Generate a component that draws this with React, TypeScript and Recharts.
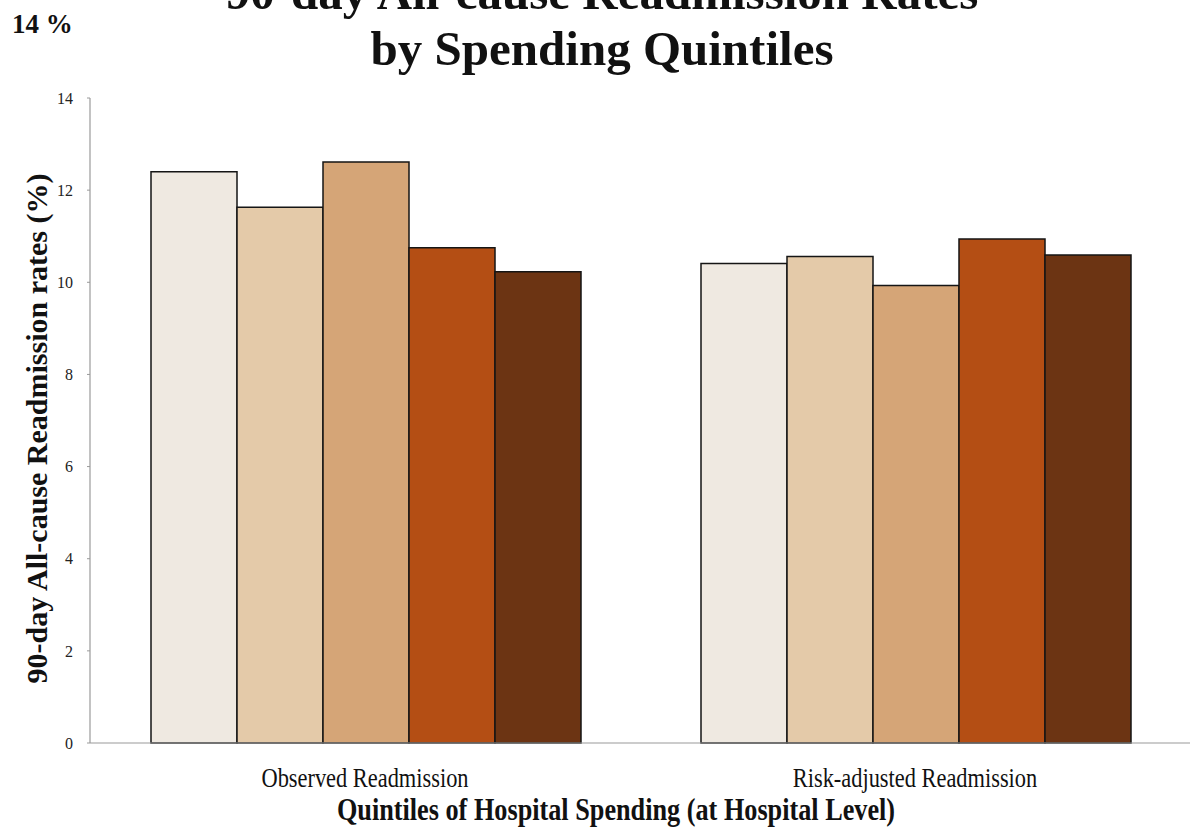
import React from 'react';
import { BarChart, Bar, XAxis, YAxis, Label } from 'recharts';

const categories = ['Observed Readmission', 'Risk-adjusted Readmission'];
const quintile1 = [12.4, 10.41];
const quintile2 = [11.63, 10.56];
const quintile3 = [12.61, 9.93];
const quintile4 = [10.75, 10.94];
const quintile5 = [10.23, 10.59];
const yTicks = [0, 2, 4, 6, 8, 10, 12, 14];

const seriesKeys = ['q1', 'q2', 'q3', 'q4', 'q5'];
const seriesColors = ['#efe9e1', '#e4caa9', '#d5a577', '#b44e14', '#6c3413'];

const data = categories.map((name, i) => ({
  name,
  q1: quintile1[i],
  q2: quintile2[i],
  q3: quintile3[i],
  q4: quintile4[i],
  q5: quintile5[i],
}));

const SERIF = '"Liberation Serif", "Times New Roman", "DejaVu Serif", serif';

const XTick = (props: any) => {
  const { x, y, payload } = props;
  return (
    <g transform={`translate(${x},${y}) scale(0.8,1)`}>
      <text x={0} y={0} dy={36} textAnchor="middle" fontFamily={SERIF} fontSize={28} fill="#111">
        {payload.value}
      </text>
    </g>
  );
};

const XTitle = (props: any) => {
  const vb = props.viewBox || {};
  const cx = vb.x + vb.width / 2 - 24;
  const cy = vb.y + 77;
  return (
    <g transform={`translate(${cx},${cy}) scale(0.82,1)`}>
      <text x={0} y={0} textAnchor="middle" fontFamily={SERIF} fontWeight="bold" fontSize={32} fill="#111">
        Quintiles of Hospital Spending (at Hospital Level)
      </text>
    </g>
  );
};

const YTitle = (props: any) => {
  const vb = props.viewBox || {};
  const cx = 36;
  const cy = vb.y + vb.height / 2 + 8;
  return (
    <text
      x={cx}
      y={cy}
      transform={`rotate(-90, ${cx}, ${cy})`}
      textAnchor="middle"
      dominantBaseline="central"
      fontFamily={SERIF}
      fontWeight="bold"
      fontSize={30}
      fill="#111"
    >
      90-day All-cause Readmission rates (%)
    </text>
  );
};

export default function App() {
  return (
    <div style={{ position: 'absolute', left: 0, top: 0, width: 1200, height: 830, background: '#fff' }}>
      <BarChart
        width={1200}
        height={830}
        data={data}
        margin={{ top: 98, right: 10, bottom: 0, left: 0 }}
        barCategoryGap={61}
        barGap={0}
      >
        <XAxis
          dataKey="name"
          axisLine={{ stroke: '#9a9a9a', strokeWidth: 1.2 }}
          tickLine={false}
          tick={<XTick />}
          interval={0}
          height={87}
        >
          <Label content={<XTitle />} />
        </XAxis>
        <YAxis
          domain={[0, 14]}
          ticks={yTicks}
          width={90}
          axisLine={{ stroke: '#9a9a9a', strokeWidth: 1.2 }}
          tickLine={{ stroke: '#9a9a9a' }}
          tickSize={3}
          tickMargin={14}
          tick={{ fontFamily: SERIF, fontSize: 16, fill: '#222' }}
        >
          <Label content={<YTitle />} />
        </YAxis>
        {seriesKeys.map((k, i) => (
          <Bar
            key={k}
            dataKey={k}
            fill={seriesColors[i]}
            stroke="#151515"
            strokeWidth={1.5}
            isAnimationActive={false}
          />
        ))}
      </BarChart>
      <svg
        width={1200}
        height={830}
        style={{ position: 'absolute', left: 0, top: 0, pointerEvents: 'none', overflow: 'hidden' }}
      >
        <text x={12} y={33} fontFamily={SERIF} fontWeight="bold" fontSize={27} fill="#111">
          14 %
        </text>
        <text x={602} y={9} textAnchor="middle" fontFamily={SERIF} fontWeight="bold" fontSize={49} fill="#111">
          90-day All-cause Readmission Rates
        </text>
        <text x={602} y={65} textAnchor="middle" fontFamily={SERIF} fontWeight="bold" fontSize={49} fill="#111">
          by Spending Quintiles
        </text>
      </svg>
    </div>
  );
}
